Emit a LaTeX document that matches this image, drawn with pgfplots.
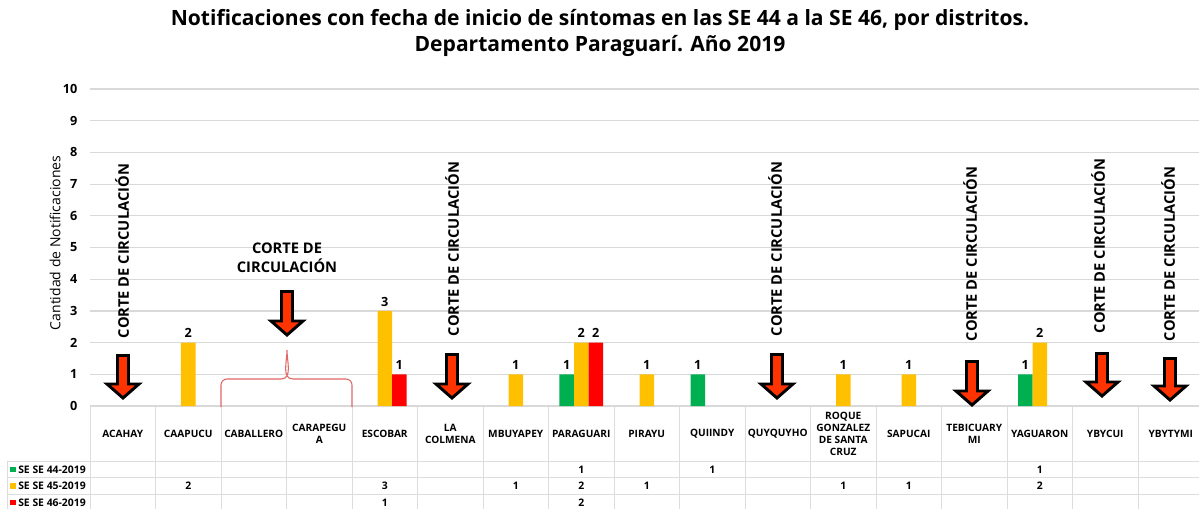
\documentclass[border=0pt]{standalone}
\usepackage{pgfplots}
\pgfplotsset{compat=1.18}
\usepackage{fontspec}
\setmainfont{Open Sans}
\definecolor{cg}{HTML}{00B050}
\definecolor{cy}{HTML}{FFC000}
\definecolor{cr}{HTML}{FF0000}
\definecolor{arr}{HTML}{FF3300}
\definecolor{gridc}{HTML}{D9D9D9}
\definecolor{tabc}{HTML}{DDDDDD}
\definecolor{bracec}{HTML}{E06666}
\newcommand{\corte}[3]{%
  \filldraw[fill=arr,draw=black,line width=2.2pt,line join=miter,miter limit=10]
   (#1-5.5,#2+1.5) -- (#1+5.5,#2+1.5) -- (#1+5.5,#3-16) -- (#1+16,#3-16) -- (#1,#3-2)
   -- (#1-16,#3-16) -- (#1-5.5,#3-16) -- cycle;}
\newcommand{\cortetext}[2]{%
  \node[rotate=90,font=\bfseries\fontsize{11}{13}\selectfont,inner sep=0pt] at (#1,#2) {CORTE DE CIRCULACIÓN};}
\begin{document}
\begin{tikzpicture}
\path[use as bounding box] (0pt,0pt) rectangle (899.25pt,-381pt);
\begin{axis}[
  at={(67.5pt,-304.5pt)}, anchor=south west,
  scale only axis, width=831.75pt, height=237.75pt,
  xmin=-0.5, xmax=16.43, ymin=0, ymax=10,
  ytick={0,1,...,10}, xtick=\empty,
  ymajorgrids, grid style={draw=gridc,line width=0.9pt},
  axis line style={draw=none}, major tick style={draw=none},
  yticklabel style={font=\bfseries\fontsize{9.5}{11}\selectfont, xshift=-6pt},
  /pgf/number format/assume math mode=true,
  ybar=0pt, bar width=10.9pt,
  nodes near coords,
  nodes near coords style={font=\bfseries\fontsize{9.5}{11}\selectfont, black},
  clip=false,
]
\addplot[fill=cg, draw=none] coordinates {(7,1) (9,1) (14,1)};
\addplot[fill=cy, draw=none] coordinates {(1,2) (4,3) (6,1) (7,2) (8,1) (11,1) (12,1) (14,2)};
\addplot[fill=cr, draw=none] coordinates {(4,1) (7,2)};
\end{axis}
\begin{scope}[x=0.75pt,y=-0.75pt]
% title
\node[font=\bfseries\fontsize{15.8}{19}\selectfont] at (600,20) {Notificaciones con fecha de inicio de síntomas en las SE 44 a la SE 46, por distritos.};
\node[font=\bfseries\fontsize{15.8}{19}\selectfont] at (600,46) {Departamento Paraguarí. Año 2019};
% y label
\node[rotate=90,font=\fontsize{10.5}{12}\selectfont] at (55,243) {Cantidad de Notificaciones};
% table lines
\foreach \k in {0,...,17} {\draw[tabc,line width=0.75pt] (90+65.5*\k,407) -- (90+65.5*\k,510);}
\foreach \yy in {461,477.5,494} {\draw[tabc,line width=0.75pt] (7,\yy) -- (1199,\yy);}
\draw[tabc,line width=0.75pt] (7,461) -- (7,510);
% header labels
\foreach \i/\t in {0/ACAHAY,1/CAAPUCU,2/CABALLERO,3/{CARAPEGU\\A},4/ESCOBAR,5/{LA\\COLMENA},6/MBUYAPEY,7/PARAGUARI,8/PIRAYU,9/QUIINDY,10/QUYQUYHO,11/{ROQUE\\GONZALEZ\\DE SANTA\\CRUZ},12/SAPUCAI,13/{TEBICUARY\\MI},14/YAGUARON,15/YBYCUI,16/YBYTYMI}
  {\node[font=\bfseries\fontsize{7.6}{9}\selectfont,align=center,inner sep=0pt] at (90+65.5*\i+32.75,434) {\t};}
% legend column
\fill[cg] (10,466.5) rectangle (15.5,472);
\fill[cy] (10,483) rectangle (15.5,488.5);
\fill[cr] (10,499.5) rectangle (15.5,505);
\node[font=\bfseries\fontsize{7.8}{9}\selectfont,anchor=west,inner sep=0pt] at (18,469.5) {SE SE 44-2019};
\node[font=\bfseries\fontsize{7.8}{9}\selectfont,anchor=west,inner sep=0pt] at (18,486) {SE SE 45-2019};
\node[font=\bfseries\fontsize{7.8}{9}\selectfont,anchor=west,inner sep=0pt] at (18,502.5) {SE SE 46-2019};
% table values
\foreach \i/\v in {7/1,9/1,14/1} {\node[font=\bfseries\fontsize{7.8}{9}\selectfont,inner sep=0pt] at (90+65.5*\i+32.75,469.5) {\v};}
\foreach \i/\v in {1/2,4/3,6/1,7/2,8/1,11/1,12/1,14/2} {\node[font=\bfseries\fontsize{7.8}{9}\selectfont,inner sep=0pt] at (90+65.5*\i+32.75,486) {\v};}
\foreach \i/\v in {4/1,7/2} {\node[font=\bfseries\fontsize{7.8}{9}\selectfont,inner sep=0pt] at (90+65.5*\i+32.75,502.5) {\v};}
% arrows
\corte{123}{354}{400}
\corte{287}{290}{337}
\corte{452}{353}{400}
\corte{777}{353}{400}
\corte{972}{360}{407}
\corte{1102}{352}{398}
\corte{1170}{357}{402}
\cortetext{122}{251}
\cortetext{452}{249}
\cortetext{775}{249}
\cortetext{970}{254}
\cortetext{1098}{246}
\cortetext{1168}{254}
\node[font=\bfseries\fontsize{11}{14.5}\selectfont,align=center] at (287,258) {CORTE DE\\CIRCULACIÓN};
% brace
\draw[bracec,line width=0.8pt] (221,407) -- (221,385) to[out=90,in=180] (227,379) -- (281,379)
  to[out=0,in=-90] (287,350) to[out=-90,in=180] (293,379) -- (346,379) to[out=0,in=90] (352,385) -- (352,407);
\end{scope}
\end{tikzpicture}
\end{document}
